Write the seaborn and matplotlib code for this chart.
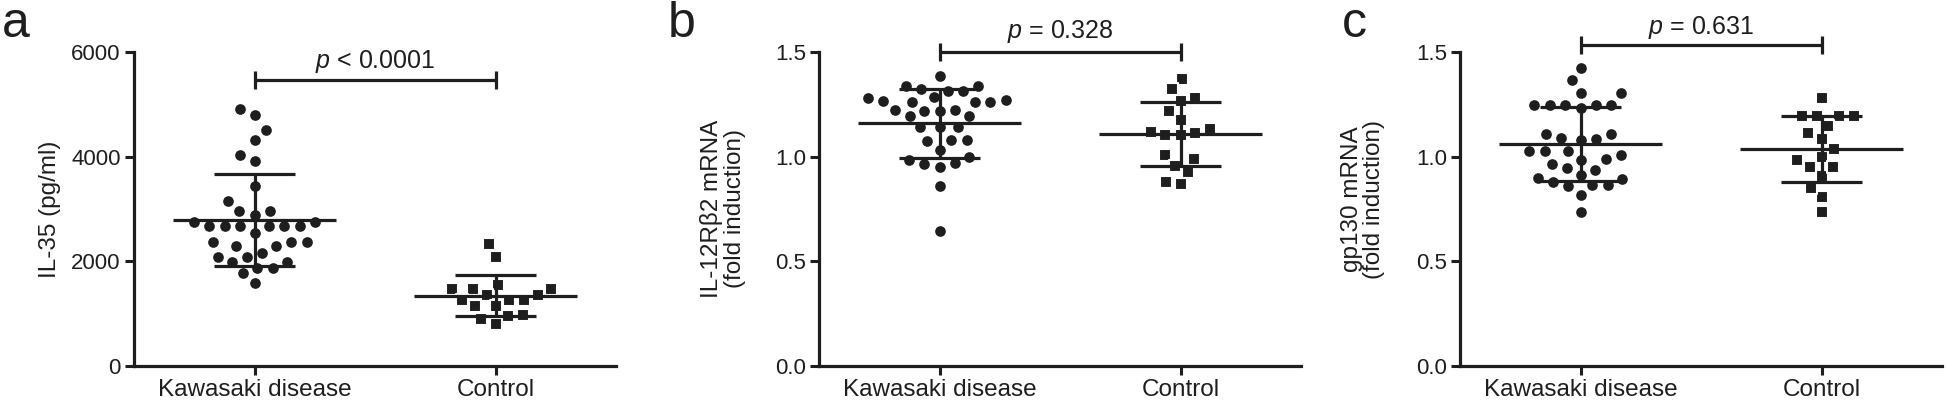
import numpy as np
import pandas as pd
import matplotlib
matplotlib.use("Agg")
import matplotlib.pyplot as plt
import seaborn as sns

groups = ["Kawasaki disease", "Control"]

# IL-35 serum levels (pg/ml)
il35_kd = [4910, 4800, 4510, 4320, 4030, 3920, 3440, 3150, 2960, 2960, 2890,
           2760, 2760, 2670, 2670, 2670, 2670, 2670, 2670, 2550, 2360, 2360,
           2360, 2290, 2290, 2160, 2090, 2090, 1980, 1980, 1880, 1880, 1770, 1580]
il35_ctrl = [2340, 2090, 1540, 1480, 1480, 1480, 1360, 1360, 1270, 1270, 1270,
             1150, 1140, 970, 960, 900, 810]

# IL-12Rb2 mRNA (fold induction)
il12_kd = [1.386, 1.339, 1.315, 1.284, 1.315, 1.323, 1.339, 1.279, 1.265, 1.263,
           1.260, 1.263, 1.273, 1.221, 1.218, 1.218, 1.221, 1.193, 1.193, 1.143,
           1.140, 1.140, 1.080, 1.080, 1.077, 1.033, 0.999, 0.986, 0.968, 0.963,
           0.952, 0.858, 0.647]
il12_ctrl = [1.370, 1.323, 1.268, 1.281, 1.218, 1.174, 1.130, 1.112, 1.104, 1.104,
             1.119, 0.990, 1.007, 0.955, 0.927, 0.869, 0.881]

# gp130 mRNA (fold induction)
gp130_kd = [1.425, 1.364, 1.304, 1.304, 1.249, 1.249, 1.249, 1.249, 1.249, 1.233,
            1.108, 1.108, 1.089, 1.080, 1.084, 1.026, 1.026, 1.026, 1.010, 0.990,
            0.985, 0.963, 0.938, 0.948, 0.891, 0.900, 0.911, 0.864, 0.860, 0.867,
            0.880, 0.817, 0.734]
gp130_ctrl = [1.281, 1.195, 1.195, 1.195, 1.195, 1.148, 1.086, 0.984, 0.906, 0.805,
              0.734, 1.1125, 1.039, 1.000, 0.950, 0.950, 0.852]

p_labels = ["$p$ < 0.0001", "$p$ = 0.328", "$p$ = 0.631"]
panel_letters = ["a", "b", "c"]
ylabels = ["IL-35 (pg/ml)", "IL-12R\u03b22 mRNA\n(fold induction)", "gp130 mRNA\n(fold induction)"]

ink = "#1e1e1e"

sns.set_style("ticks")
plt.rcParams["font.family"] = ["Liberation Sans", "DejaVu Sans"]
plt.rcParams["mathtext.fontset"] = "custom"
plt.rcParams["mathtext.it"] = "Liberation Sans:italic"
plt.rcParams["mathtext.rm"] = "Liberation Sans"


def draw_panel(ax, kd, ctrl, yticks, ylabel, ptext, bar_y, bar_d, text_y, label_x, label_y):
    df = pd.DataFrame({
        "group": [groups[0]] * len(kd) + [groups[1]] * len(ctrl),
        "value": list(kd) + list(ctrl),
    })
    # white rims keep the dots apart like the GraphPad column scatter
    sns.swarmplot(data=df[df.group == groups[0]], x="group", y="value", order=groups,
                  marker="o", size=9.2, color=ink, edgecolor="white", linewidth=1.5, ax=ax)
    sns.swarmplot(data=df[df.group == groups[1]], x="group", y="value", order=groups,
                  marker="s", size=8.8, color=ink, edgecolor="white", linewidth=1.5, ax=ax)

    stats = df.groupby("group")["value"].agg(["mean", "std"])
    for i, g in enumerate(groups):
        m, s = stats.loc[g, "mean"], stats.loc[g, "std"]
        ax.hlines(m, i - 0.34, i + 0.34, color=ink, lw=2.3, zorder=4)
        ax.hlines([m - s, m + s], i - 0.17, i + 0.17, color=ink, lw=2.3, zorder=4)
        ax.vlines(i, m - s, m + s, color=ink, lw=2.3, zorder=4)

    # significance bracket
    ax.hlines(bar_y, 0, 1, color=ink, lw=2.3, clip_on=False)
    ax.vlines([0, 1], bar_y - bar_d, bar_y + bar_d, color=ink, lw=2.3, clip_on=False)
    ax.text(0.5, text_y, ptext, ha="center", va="baseline", fontsize=18, color=ink)

    ax.set_xlim(-0.5, 1.5)
    ax.set_ylim(yticks[0], yticks[-1])
    ax.set_yticks(yticks)
    ax.set_xlabel("")
    ax.set_ylabel(ylabel, fontsize=17.5, color=ink, linespacing=1.02)
    ax.yaxis.set_label_coords(label_x, label_y)
    sns.despine(ax=ax)
    for side in ["left", "bottom"]:
        ax.spines[side].set_linewidth(2.3)
        ax.spines[side].set_color(ink)
    ax.tick_params(axis="both", direction="out", length=6.5, width=2.2, color=ink,
                   labelcolor=ink, pad=3)
    ax.tick_params(axis="y", labelsize=16)
    ax.tick_params(axis="x", labelsize=17.5)


fig = plt.figure(figsize=(19.46, 4.03), dpi=100)
lefts = [134 / 1946, 819 / 1946, 1460 / 1946]
axes = [fig.add_axes([l, 37 / 403, 482 / 1946, 314 / 403]) for l in lefts]

draw_panel(axes[0], il35_kd, il35_ctrl, [0, 2000, 4000, 6000], ylabels[0], p_labels[0],
           5466, 165, 5690, -0.152, 0.5)
draw_panel(axes[1], il12_kd, il12_ctrl, [0.0, 0.5, 1.0, 1.5], ylabels[1], p_labels[1],
           1.50, 0.042, 1.565, -0.152, 0.5)
draw_panel(axes[2], gp130_kd, gp130_ctrl, [0.0, 0.5, 1.0, 1.5], ylabels[2], p_labels[2],
           1.534, 0.043, 1.585, -0.155, 0.53)
for ax in axes[1:]:
    ax.yaxis.set_major_formatter(matplotlib.ticker.FormatStrFormatter("%.1f"))

for x, letter in zip([2 / 1946, 668 / 1946, 1342 / 1946], panel_letters):
    fig.text(x, 1 - 37 / 403, letter, fontsize=36, color=ink, ha="left", va="baseline")

fig.savefig("out.png", dpi=100)
